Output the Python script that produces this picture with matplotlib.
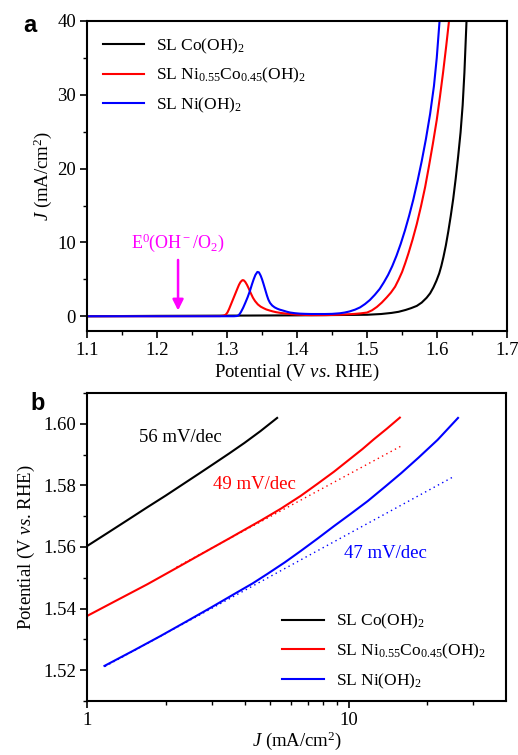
import numpy as np
import matplotlib
matplotlib.use('Agg')
import matplotlib.pyplot as plt
from matplotlib.ticker import MultipleLocator, FixedLocator, FixedFormatter, NullFormatter

plt.rcParams['font.family'] = 'Liberation Serif'
plt.rcParams['mathtext.fontset'] = 'custom'
plt.rcParams['mathtext.rm'] = 'Liberation Serif'
plt.rcParams['mathtext.it'] = 'Liberation Serif:italic'
plt.rcParams['font.size'] = 13.5

# Panel a: LSV curves (potential in V, current density in mA/cm2)
v_co = [1.10, 1.20, 1.30, 1.40, 1.48, 1.50, 1.52, 1.535, 1.545, 1.555, 1.563, 1.571,
        1.578, 1.585, 1.590, 1.5947, 1.599, 1.603, 1.606, 1.609, 1.6125, 1.616,
        1.6195, 1.623, 1.6265, 1.630, 1.6335, 1.6365, 1.639, 1.642]
j_co = [0.0, 0.05, 0.08, 0.12, 0.18, 0.2, 0.3, 0.45, 0.6, 0.85, 1.1, 1.4,
        1.85, 2.5, 3.1, 3.9, 4.8, 5.8, 6.8, 8.0, 9.6, 11.5,
        13.6, 15.9, 18.6, 21.6, 24.9, 28.6, 33.0, 40.0]

v_nico = [1.10, 1.20, 1.29, 1.295, 1.298, 1.3005, 1.303, 1.306, 1.309, 1.312, 1.315,
          1.317, 1.319, 1.321, 1.3224, 1.324, 1.326, 1.3285, 1.331, 1.334, 1.337,
          1.340, 1.344, 1.348, 1.352, 1.356, 1.36, 1.365, 1.37, 1.377, 1.385,
          1.392, 1.40, 1.41, 1.42, 1.44, 1.46, 1.48, 1.49, 1.50, 1.507, 1.514,
          1.521, 1.528, 1.534, 1.540, 1.545, 1.550, 1.5545, 1.559, 1.565, 1.571,
          1.577, 1.5829, 1.5885, 1.594, 1.5995, 1.604, 1.6085, 1.613, 1.617]
j_nico = [0.0, 0.0, 0.02, 0.08, 0.2, 0.5, 1.0, 1.7, 2.4, 3.1, 3.8,
          4.25, 4.6, 4.82, 4.9, 4.85, 4.65, 4.25, 3.75, 3.1, 2.5,
          2.05, 1.6, 1.3, 1.1, 0.92, 0.8, 0.66, 0.55, 0.44, 0.35,
          0.28, 0.22, 0.18, 0.15, 0.15, 0.2, 0.3, 0.38, 0.5, 0.8, 1.26,
          1.85, 2.55, 3.2, 4.0, 4.95, 6.0, 7.2, 8.5, 10.4, 12.5,
          14.9, 17.5, 20.4, 23.4, 26.6, 29.7, 33.0, 36.6, 40.0]

v_ni = [1.10, 1.20, 1.31, 1.314, 1.316, 1.318, 1.32, 1.323, 1.326, 1.3295, 1.3329,
        1.3355, 1.338, 1.3405, 1.3433, 1.3455, 1.348, 1.350, 1.352, 1.3545, 1.357,
        1.359, 1.3614, 1.3645, 1.368, 1.3715, 1.375, 1.3805, 1.385, 1.39, 1.397,
        1.404, 1.412, 1.42, 1.44, 1.45, 1.461, 1.468, 1.475, 1.483, 1.490, 1.497,
        1.504, 1.511, 1.518, 1.524, 1.530, 1.536, 1.542, 1.548, 1.554, 1.560,
        1.566, 1.572, 1.578, 1.584, 1.590, 1.5955, 1.5995, 1.6035]
j_ni = [0.0, 0.0, 0.0, 0.03, 0.1, 0.3, 0.6, 1.15, 1.8, 2.6, 3.5,
        4.3, 5.0, 5.6, 6.0, 5.95, 5.5, 5.0, 4.4, 3.6, 2.8,
        2.25, 1.8, 1.45, 1.2, 1.03, 0.9, 0.75, 0.62, 0.5, 0.41,
        0.35, 0.32, 0.3, 0.3, 0.32, 0.4, 0.5, 0.65, 0.9, 1.2, 1.65,
        2.2, 2.9, 3.7, 4.6, 5.6, 6.8, 8.2, 9.8, 11.6, 13.6,
        15.8, 18.3, 21.0, 24.0, 27.4, 31.2, 35.0, 40.0]

e0_potential = 1.23

# Panel b: Tafel plots (J in mA/cm2, potential in V)
tj_co = [1.0, 1.2, 1.42, 1.7, 2.0, 2.3, 2.7, 3.1, 3.5, 4.0, 4.6, 5.33]
tv_co = [1.5603, 1.5646, 1.5686, 1.5729, 1.5767, 1.5801, 1.5840, 1.5874, 1.5904,
         1.5938, 1.5976, 1.6019]

tj_nico = [1.0, 1.3, 1.7, 2.21, 2.8, 3.5, 4.0, 4.62, 5.5, 6.56, 7.6, 8.81, 10.2,
           11.3, 12.5, 14.0, 15.7]
tv_nico = [1.5376, 1.5427, 1.5479, 1.5533, 1.5582, 1.5628, 1.5656, 1.5686, 1.5724,
           1.5766, 1.5805, 1.5845, 1.5888, 1.5918, 1.5950, 1.5984, 1.6020]

tj_ni = [1.166, 1.5, 1.9, 2.42, 3.0, 3.7, 4.3, 4.9, 5.7, 6.56, 7.6, 8.8, 10.2,
         11.83, 13.8, 15.9, 18.5, 21.9, 26.2]
tv_ni = [1.5214, 1.5263, 1.5310, 1.5360, 1.5405, 1.5450, 1.5482, 1.5513, 1.5550,
         1.5587, 1.5627, 1.5668, 1.5708, 1.5749, 1.5796, 1.5840, 1.5890, 1.5948, 1.6019]

# linear Tafel fits (end points)
fit_j_nico = [2.2, 15.9]
fit_v_nico = [1.5535, 1.5928]
fit_j_ni = [1.17, 25.4]
fit_v_ni = [1.5212, 1.5830]

labels = ['SL Co(OH)$_2$', 'SL Ni$_{0.55}$Co$_{0.45}$(OH)$_2$', 'SL Ni(OH)$_2$']
slopes = ['56 mV/dec', '49 mV/dec', '47 mV/dec']
colors = ['black', '#ff0000', '#0000ff']

fig = plt.figure(figsize=(5.18, 7.55), dpi=100)
ax1 = fig.add_axes([0.168, 0.5616, 0.811, 0.4106])
ax2 = fig.add_axes([0.168, 0.0715, 0.809, 0.408])

lw = 1.5
ax1.plot(v_co, j_co, color=colors[0], lw=lw, label=labels[0])
ax1.plot(v_nico, j_nico, color=colors[1], lw=lw, label=labels[1])
ax1.plot(v_ni, j_ni, color=colors[2], lw=lw, label=labels[2])

ax1.annotate('', xy=(e0_potential, 0.4), xytext=(e0_potential, 8.0),
             arrowprops=dict(arrowstyle='-|>', color='#ff00ff', lw=1.8,
                             mutation_scale=16))
ax1.text(e0_potential, 10.0, 'E$^0$(OH$^-$/O$_2$)', color='#ff00ff',
         ha='center', va='center', fontsize=13)

ax1.set_xlim(1.1, 1.7)
ax1.set_ylim(-2, 40)
ax1.xaxis.set_major_locator(MultipleLocator(0.1))
ax1.xaxis.set_minor_locator(MultipleLocator(0.05))
ax1.yaxis.set_major_locator(MultipleLocator(10))
ax1.yaxis.set_minor_locator(MultipleLocator(5))
ax1.set_xlabel('Potential (V $\\mathit{vs}$. RHE)', labelpad=2)
ax1.set_ylabel('$\\mathit{J}$ (mA/cm$^2$)', labelpad=2)
ax1.legend(loc='upper left', frameon=False, handlelength=2.4, handletextpad=0.7,
           borderaxespad=0.5, labelspacing=0.6, fontsize=12.5,
           bbox_to_anchor=(0.0, 1.0))

ax2.plot(tj_co, tv_co, color=colors[0], lw=lw, label=labels[0])
ax2.plot(tj_nico, tv_nico, color=colors[1], lw=lw, label=labels[1])
ax2.plot(tj_ni, tv_ni, color=colors[2], lw=lw, label=labels[2])
ax2.plot(fit_j_nico, fit_v_nico, color=colors[1], lw=1.0, ls=(0, (1, 2.5)))
ax2.plot(fit_j_ni, fit_v_ni, color=colors[2], lw=1.0, ls=(0, (1, 2.5)))

ax2.text(2.27, 1.5954, slopes[0], color=colors[0], ha='center', va='center')
ax2.text(4.37, 1.5803, slopes[1], color=colors[1], ha='center', va='center')
ax2.text(13.8, 1.5578, slopes[2], color=colors[2], ha='center', va='center')

ax2.set_xscale('log')
ax2.set_xlim(1, 40)
ax2.set_ylim(1.51, 1.61)
ax2.xaxis.set_major_locator(FixedLocator([1, 10]))
ax2.xaxis.set_major_formatter(FixedFormatter(['1', '10']))
ax2.xaxis.set_minor_locator(FixedLocator([2, 3, 4, 5, 6, 7, 8, 9, 20, 30]))
ax2.xaxis.set_minor_formatter(NullFormatter())
ax2.yaxis.set_major_locator(MultipleLocator(0.02))
ax2.yaxis.set_minor_locator(MultipleLocator(0.01))
ax2.yaxis.set_major_formatter(plt.FormatStrFormatter('%.2f'))
ax2.set_xlabel('$\\mathit{J}$ (mA/cm$^2$)', labelpad=0)
ax2.set_ylabel('Potential (V $\\mathit{vs}$. RHE)', labelpad=4)
ax2.legend(loc='lower right', frameon=False, handlelength=2.4, handletextpad=0.7,
           labelspacing=0.6, fontsize=12.5, bbox_to_anchor=(0.99, -0.017))

for ax in (ax1, ax2):
    for sp in ax.spines.values():
        sp.set_linewidth(1.5)
    ax.tick_params(which='major', direction='out', length=5, width=1.2,
                   top=False, right=False, pad=3)
    ax.tick_params(which='minor', direction='out', length=3, width=1.0,
                   top=False, right=False)

fig.text(0.058, 0.966, 'a', fontfamily='Liberation Sans', fontweight='bold',
         fontsize=17, ha='center', va='center')
fig.text(0.072, 0.466, 'b', fontfamily='Liberation Sans', fontweight='bold',
         fontsize=17, ha='center', va='center')

fig.savefig('out.png', dpi=100)
